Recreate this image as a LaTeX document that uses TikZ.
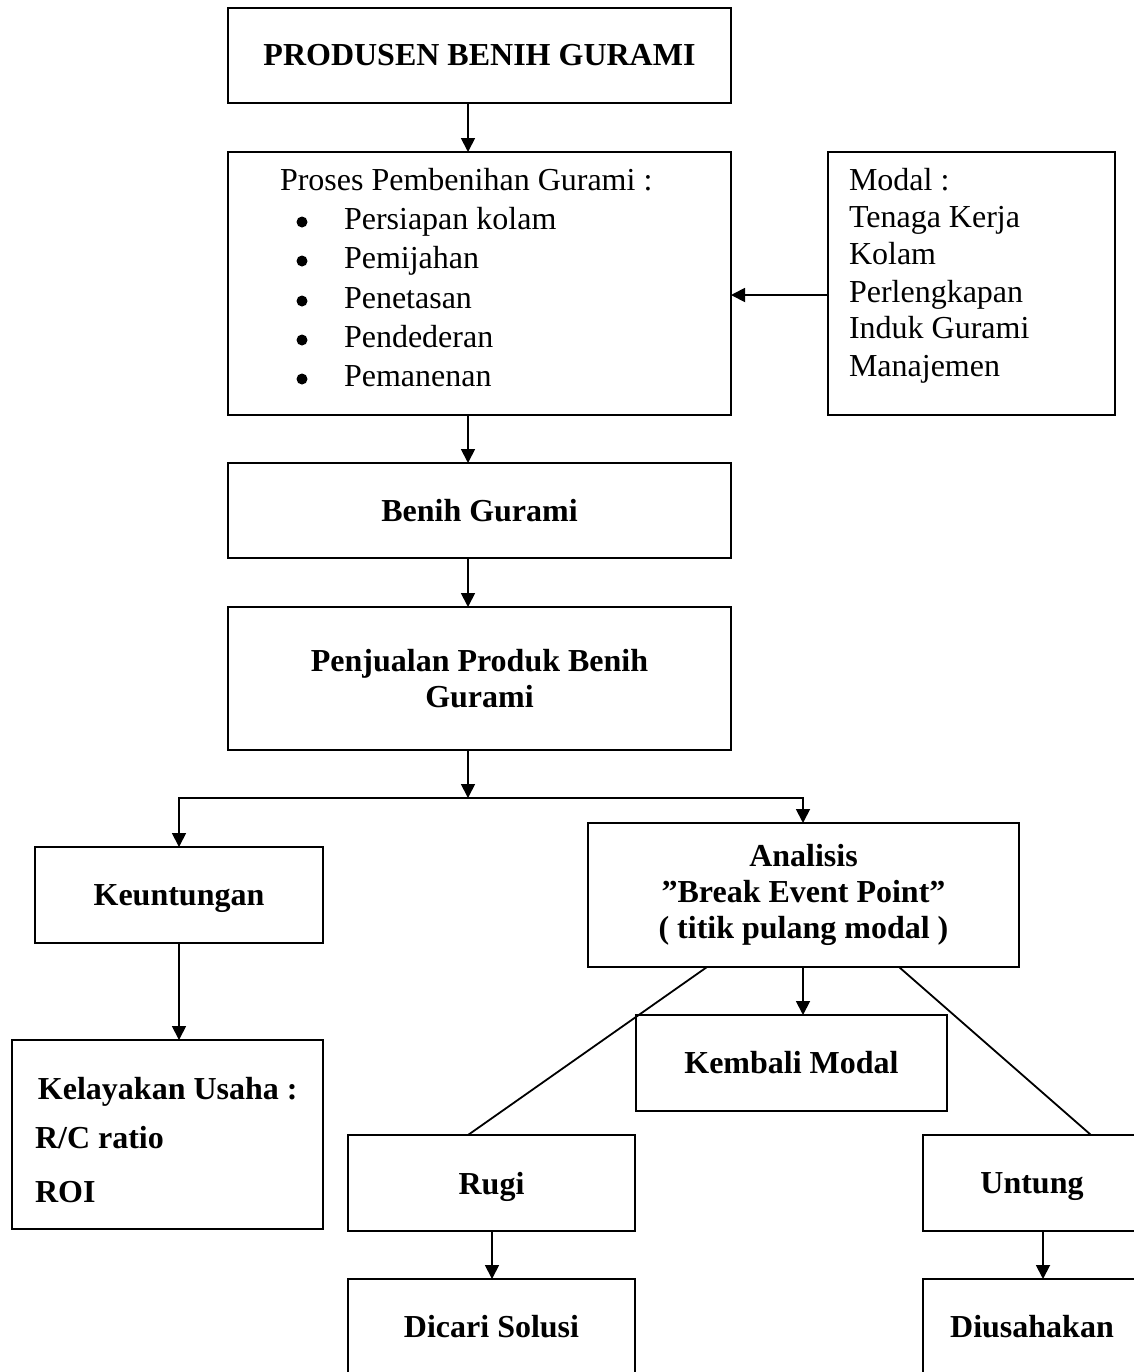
\documentclass[tikz,border=0pt]{standalone}
\usepackage{fontspec}
\setmainfont{Liberation Serif}
\usetikzlibrary{arrows.meta}
\begin{document}
\begin{tikzpicture}[x=0.5pt,y=-0.5pt,
  box/.style={draw, line width=0.9pt, inner sep=0pt, outer sep=0pt,
    font=\fontsize{16}{18}\selectfont\bfseries, align=center},
  nodesc/.style={text depth=0pt},
  plain/.style={inner sep=0pt, outer sep=0pt,
    font=\fontsize{16}{18}\selectfont, anchor=base west},
  bplain/.style={plain, font=\fontsize{16}{18}\selectfont\bfseries},
  dot/.style={circle, fill, inner sep=0pt, outer sep=0pt, minimum size=5.5pt},
  arr/.style={line width=0.9pt, -{Triangle[length=7pt,width=7pt]}},
  ln/.style={line width=0.9pt}]
\useasboundingbox (0,0) rectangle (1134,1372);
\fill[white] (0,0) rectangle (1134,1372);
\clip (0,0) rectangle (1134,1372);

% boxes
\node[box, minimum width=251.5pt, minimum height=47.5pt] (prod) at (479.5,55.5) {PRODUSEN BENIH GURAMI};
\node[box, minimum width=251.5pt, minimum height=131.5pt] (proc) at (479.5,283.5) {};
\node[box, minimum width=143.5pt, minimum height=131.5pt] (modal) at (971.5,283.5) {};
\node[box, minimum width=251.5pt, minimum height=47.5pt] (benih) at (479.5,510.5) {Benih Gurami};
\node[box, minimum width=251.5pt, minimum height=71.5pt] (jual) at (479.5,678.5) {Penjualan Produk Benih\\Gurami};
\node[box, nodesc, minimum width=144pt, minimum height=48pt] (untg) at (179,895) {Keuntungan};
\node[box, minimum width=215.5pt, minimum height=72pt] (bep) at (803.5,895) {Analisis\\”Break Event Point”\\( titik pulang modal )};
\node[box, minimum width=155.5pt, minimum height=48pt] (kembali) at (791.5,1063) {Kembali Modal};
\node[box, minimum width=155.5pt, minimum height=94.5pt] (layak) at (167.5,1134.5) {};
\node[box, nodesc, minimum width=143.5pt, minimum height=48pt] (rugi) at (491.5,1183) {Rugi};
\node[box, nodesc, minimum width=109pt, minimum height=48pt] (untung) at (1032,1183) {Untung};
\node[box, minimum width=143.5pt, minimum height=47.5pt] (solusi) at (491.5,1326.5) {Dicari Solusi};
\node[box, minimum width=109pt, minimum height=47.5pt] (usaha) at (1032,1326.5) {Diusahakan};

% process text
\node[plain] (p0) at (280,190) {Proses Pembenihan Gurami :};
\foreach \t/\yy [count=\i] in {Persiapan kolam/229, Pemijahan/268, Penetasan/308, Pendederan/347, Pemanenan/386}{
  \node[dot] (pb\i) at (302,\yy-7) {};
  \node[plain] (p\i) at (344,\yy) {\t};
}
% modal text
\foreach \t/\yy [count=\i] in {Modal :/190, Tenaga Kerja/227, Kolam/264, Perlengkapan/302, Induk Gurami/338, Manajemen/376}{
  \node[plain] (m\i) at (849,\yy) {\t};
}
% kelayakan text
\node[bplain] (k1) at (38,1099) {Kelayakan Usaha :};
\node[bplain] (k2) at (35,1148) {R/C ratio};
\node[bplain] (k3) at (35,1202) {ROI};

% connectors
\draw[arr] ([xshift=-5.75pt]prod.south) -- ([xshift=-5.75pt]proc.north);
\draw[arr] ([yshift=-5.75pt]modal.west) -- ([yshift=-5.75pt]proc.east);
\draw[arr] ([xshift=-5.75pt]proc.south) -- ([xshift=-5.75pt]benih.north);
\draw[arr] ([xshift=-5.75pt]benih.south) -- ([xshift=-5.75pt]jual.north);
\coordinate (split) at (468,798);
\draw[arr] ([xshift=-5.75pt]jual.south) -- (split);
\draw[arr] (split) -| (untg.north);
\draw[arr] (split) -| ([xshift=-0.25pt]bep.north);
\draw[arr] (untg.south) -- (untg.south |- layak.north);
\draw[arr] ([xshift=-0.25pt]bep.south) -- ([xshift=-0.25pt]bep.south |- kembali.north);
\draw[ln] ([xshift=-48.25pt]bep.south) -- ([xshift=-11.75pt]rugi.north);
\draw[ln] ([xshift=47.75pt]bep.south) -- ([xshift=29.5pt]untung.north);
\draw[arr] ([xshift=0.25pt]rugi.south) -- ([xshift=0.25pt]solusi.north);
\draw[arr] ([xshift=5.5pt]untung.south) -- ([xshift=5.5pt]usaha.north);
\end{tikzpicture}
\end{document}
